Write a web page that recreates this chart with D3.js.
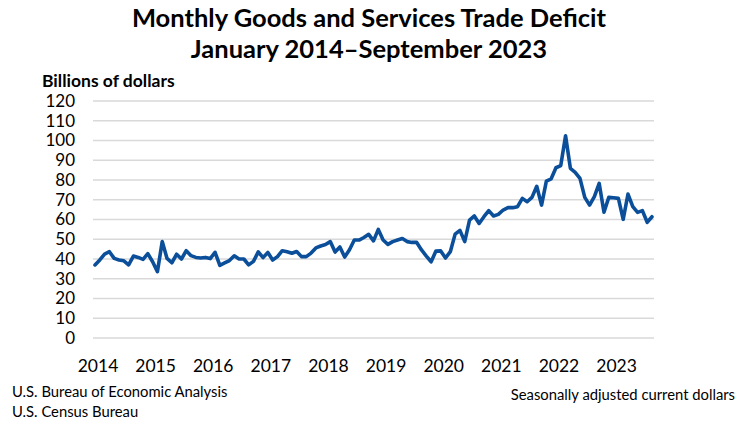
<!DOCTYPE html>
<html>
<head>
<meta charset="utf-8">
<script src="https://cdn.jsdelivr.net/npm/d3@7"></script>
<style>
  body { margin: 0; background: #fff; }
  svg { display: block; font-family: Lato, "Open Sans", sans-serif; }
</style>
</head>
<body>
<div id="chart"></div>
<script>
// Monthly deficit, billions of dollars, Jan 2014 .. Sep 2023
const years = [2014, 2015, 2016, 2017, 2018, 2019, 2020, 2021, 2022, 2023];
const deficit = [
  37, 39.5, 42.5, 43.7, 40.3, 39.5, 39.1, 37, 41.5, 40.8, 39.8, 42.7,       // 2014
  38.6, 33.6, 48.8, 40.3, 38.1, 42.4, 40, 44.2, 41.7, 40.8, 40.5, 40.8,     // 2015
  40.2, 43.4, 36.8, 38, 39.2, 41.6, 40, 40, 37, 38.8, 43.6, 40.7,           // 2016
  43.3, 39.5, 41.2, 44.2, 43.7, 42.9, 43.8, 41.2, 41.2, 43, 45.6, 46.6,     // 2017
  47.3, 48.8, 43.5, 46.1, 41, 44.7, 49.6, 49.6, 50.9, 52.5, 49.2, 55,       // 2018
  49.6, 47.4, 48.8, 49.6, 50.4, 48.8, 48.4, 48.4, 44.6, 41.5, 38.6, 44,     // 2019
  44.1, 40.5, 43.7, 52.6, 54.5, 48.8, 59.7, 61.8, 58, 61.4, 64.5, 61.8,     // 2020
  62.6, 64.8, 66, 66, 66.5, 70.7, 69, 71.2, 76.8, 67.3, 79.4, 80.6,         // 2021
  86.2, 87.3, 102.4, 85.9, 83.9, 80.8, 71.2, 67.3, 71.6, 78.3, 63.7, 71.2,  // 2022
  71, 70.7, 60.1, 72.9, 66.5, 63.6, 64.5, 58.6, 61.4                        // 2023
];
const yTicks = [0, 10, 20, 30, 40, 50, 60, 70, 80, 90, 100, 110, 120];

const width = 742, height = 426;

const svg = d3.select("#chart").append("svg")
  .attr("width", width)
  .attr("height", height);

const x = d3.scaleLinear().domain([0, deficit.length - 1]).range([95, 652]);
const y = d3.scaleLinear().domain([0, 120]).range([338, 101]);

// Titles
svg.append("text")
  .attr("x", 369).attr("y", 27)
  .attr("text-anchor", "middle")
  .style("font-weight", "bold").style("font-size", "25.5px")
  .text("Monthly Goods and Services Trade Deficit");
svg.append("text")
  .attr("x", 369).attr("y", 58)
  .attr("text-anchor", "middle")
  .style("font-weight", "bold").style("font-size", "25.5px")
  .text("January 2014–September 2023");
svg.append("text")
  .attr("x", 42).attr("y", 87)
  .style("font-weight", "bold").style("font-size", "17.5px")
  .text("Billions of dollars");

// Gridlines
svg.append("g")
  .selectAll("line")
  .data(yTicks)
  .join("line")
  .attr("x1", 93).attr("x2", 654)
  .attr("y1", d => y(d)).attr("y2", d => y(d))
  .attr("stroke", "#d9d9d9")
  .attr("stroke-width", 1.5);

// Y labels
svg.append("g")
  .selectAll("text")
  .data(yTicks)
  .join("text")
  .attr("x", 75)
  .attr("y", d => y(d))
  .attr("dy", "0.35em")
  .attr("text-anchor", "end")
  .style("font-size", "17px")
  .text(d => d);

// X labels, one per January
svg.append("g")
  .selectAll("text")
  .data(years)
  .join("text")
  .attr("x", (d, i) => x(i * 12) + 3)
  .attr("y", 372)
  .attr("text-anchor", "middle")
  .style("font-size", "17.5px")
  .text(d => d);

// Line
const line = d3.line()
  .x((d, i) => x(i))
  .y(d => y(d));

svg.append("path")
  .datum(deficit)
  .attr("fill", "none")
  .attr("stroke", "#0b4f9a")
  .attr("stroke-width", 3.6)
  .attr("stroke-linejoin", "round")
  .attr("stroke-linecap", "round")
  .attr("d", line);

// Footer
svg.append("text")
  .attr("x", 12).attr("y", 397)
  .style("font-size", "14.8px")
  .text("U.S. Bureau of Economic Analysis");
svg.append("text")
  .attr("x", 12).attr("y", 417)
  .style("font-size", "14.8px")
  .text("U.S. Census Bureau");
svg.append("text")
  .attr("x", 735).attr("y", 400)
  .attr("text-anchor", "end")
  .style("font-size", "14.8px")
  .text("Seasonally adjusted current dollars");
</script>
</body>
</html>
